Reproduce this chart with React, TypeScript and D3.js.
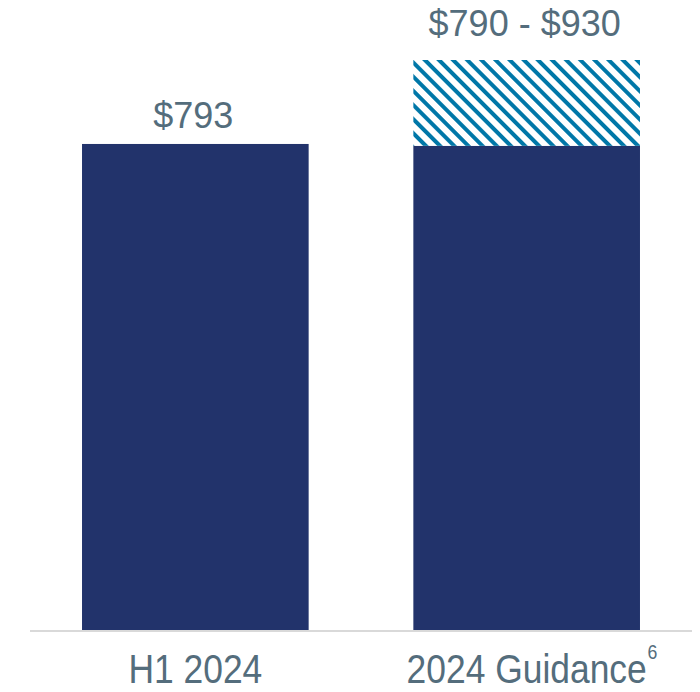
import React, { useEffect, useRef } from 'react';
import * as d3 from 'd3';

// chart data
const categories = ['H1 2024', '2024 Guidance'];
const baseValues = [793, 790];
const rangeHigh = [null, 930];
const valueLabels = ['$793', '$790 - $930'];
const footnotes = ['', '6'];

const W = 700;
const H = 692;

const App = () => {
  const ref = useRef<SVGSVGElement | null>(null);

  useEffect(() => {
    const svg = d3.select(ref.current);
    svg.selectAll('*').remove();

    const textColor = '#546d7c';
    const barColor = '#22336b';
    const hatchColor = '#0077a8';

    const x = d3.scaleBand<string>()
      .domain(categories)
      .range([30, 692])
      .paddingInner(0.316)
      .paddingOuter(0.157);

    const y = d3.scaleLinear()
      .domain([0, 930])
      .range([630, 60]);

    // hatch pattern for the guidance range
    const defs = svg.append('defs');
    const pat = defs.append('pattern')
      .attr('id', 'hatch')
      .attr('patternUnits', 'userSpaceOnUse')
      .attr('width', 10)
      .attr('height', 10)
      .attr('patternTransform', 'rotate(45)');
    pat.append('rect').attr('width', 10).attr('height', 10).attr('fill', '#fff');
    pat.append('rect').attr('width', 10).attr('height', 4).attr('fill', hatchColor);

    const data = categories.map((c, i) => ({
      cat: c,
      base: baseValues[i],
      high: rangeHigh[i],
      label: valueLabels[i],
      note: footnotes[i],
    }));

    // solid bars
    svg.append('g').selectAll('rect')
      .data(data)
      .enter()
      .append('rect')
      .attr('x', d => x(d.cat)!)
      .attr('y', d => y(d.base))
      .attr('width', x.bandwidth())
      .attr('height', d => y(0) - y(d.base))
      .attr('fill', barColor);

    // hatched range
    svg.append('g').selectAll('rect')
      .data(data.filter(d => d.high != null))
      .enter()
      .append('rect')
      .attr('x', d => x(d.cat)!)
      .attr('y', d => y(d.high as number))
      .attr('width', x.bandwidth())
      .attr('height', d => y(d.base) - y(d.high as number))
      .attr('fill', 'url(#hatch)');

    // baseline
    svg.append('line')
      .attr('x1', 30)
      .attr('x2', 692)
      .attr('y1', y(0) + 1)
      .attr('y2', y(0) + 1)
      .attr('stroke', '#d9d9d9')
      .attr('stroke-width', 2);

    // value labels
    svg.append('g').selectAll('text')
      .data(data)
      .enter()
      .append('text')
      .attr('x', d => x(d.cat)! + x.bandwidth() / 2 - 2)
      .attr('y', d => d.high != null ? y(d.high) - 24 : y(d.base) - 16)
      .attr('text-anchor', 'middle')
      .attr('fill', textColor)
      .style('font-family', '"Liberation Sans", Arial, sans-serif')
      .style('font-size', '36px')
      .text(d => d.label);

    // category labels (slightly condensed)
    const sx = 0.885;
    data.forEach(d => {
      const cx = x(d.cat)! + x.bandwidth() / 2;
      const g = svg.append('g')
        .attr('transform', `translate(${cx},683) scale(${sx},1)`);
      const t = g.append('text')
        .attr('text-anchor', 'middle')
        .attr('fill', textColor)
        .style('font-family', '"Liberation Sans", Arial, sans-serif')
        .style('font-size', '40px')
        .text(d.cat);
      if (d.note) {
        const len = (t.node() as SVGTextElement).getComputedTextLength();
        g.append('text')
          .attr('x', len / 2 + 1)
          .attr('y', -24)
          .attr('fill', textColor)
          .style('font-family', '"Liberation Sans", Arial, sans-serif')
          .style('font-size', '20px')
          .text(d.note);
      }
    });
  }, []);

  return (
    <svg
      ref={ref}
      width={W}
      height={H}
      style={{ position: 'absolute', top: 0, left: 0, background: '#fff' }}
    />
  );
};

export default App;
